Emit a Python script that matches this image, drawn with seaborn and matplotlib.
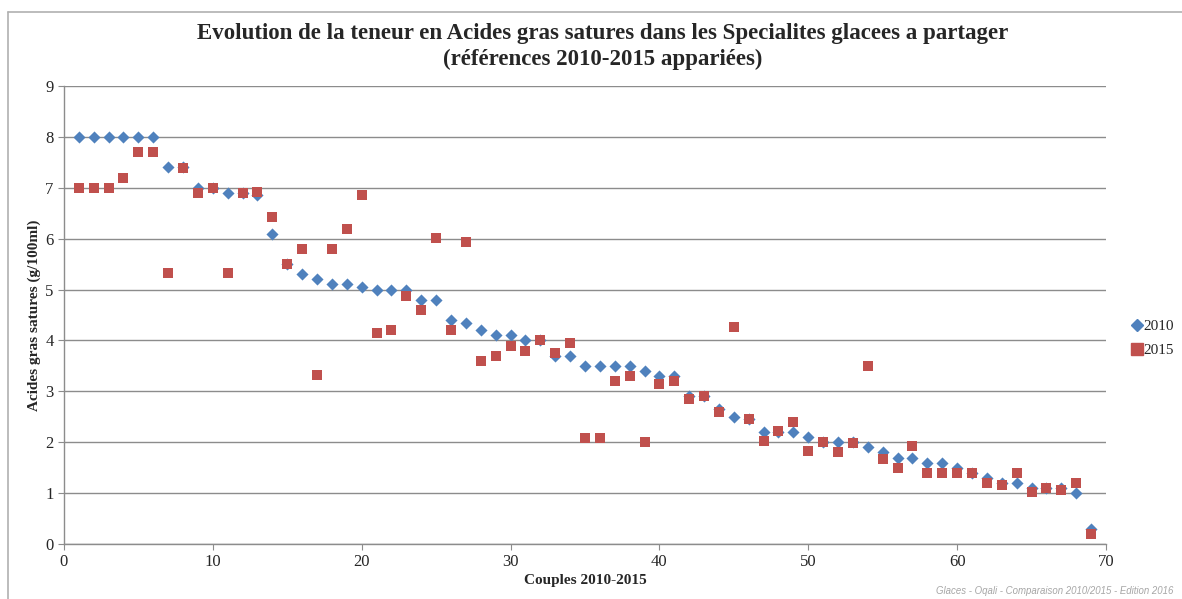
import numpy as np
import pandas as pd
import seaborn as sns
import matplotlib.pyplot as plt
from matplotlib.lines import Line2D

# valeurs (g/100ml)
couples = list(range(1, 70))
ags_2010 = [8.0, 8.0, 8.0, 8.0, 8.0, 8.0, 7.4, 7.4, 7.0, 7.0,
            6.9, 6.9, 6.85, 6.1, 5.5, 5.3, 5.2, 5.1, 5.1, 5.05,
            5.0, 5.0, 5.0, 4.8, 4.8, 4.4, 4.35, 4.2, 4.1, 4.1,
            4.0, 4.0, 3.7, 3.7, 3.5, 3.5, 3.5, 3.5, 3.4, 3.3,
            3.3, 2.9, 2.9, 2.65, 2.5, 2.45, 2.2, 2.2, 2.2, 2.1,
            2.0, 2.0, 2.0, 1.9, 1.8, 1.7, 1.7, 1.6, 1.6, 1.5,
            1.4, 1.3, 1.2, 1.2, 1.1, 1.1, 1.1, 1.0, 0.3]
ags_2015 = [7.0, 7.0, 7.0, 7.2, 7.7, 7.7, 5.33, 7.38, 6.9, 7.0,
            5.33, 6.9, 6.92, 6.42, 5.5, 5.8, 3.33, 5.8, 6.2, 6.85,
            4.15, 4.2, 4.87, 4.6, 6.02, 4.2, 5.93, 3.6, 3.7, 3.9,
            3.8, 4.0, 3.75, 3.95, 2.08, 2.08, 3.2, 3.3, 2.0, 3.15,
            3.2, 2.85, 2.9, 2.6, 4.27, 2.45, 2.03, 2.23, 2.4, 1.82,
            2.0, 1.8, 1.98, 3.5, 1.68, 1.5, 1.92, 1.4, 1.4, 1.4,
            1.4, 1.2, 1.15, 1.4, 1.03, 1.1, 1.07, 1.2, 0.2]
annees = ['2010', '2015']
couleurs = {'2010': '#4F81BD', '2015': '#C0504D'}

df = pd.DataFrame({'couple': couples * 2,
                   'ags': ags_2010 + ags_2015,
                   'annee': [annees[0]] * len(couples) + [annees[1]] * len(couples)})

sns.set_style('white')
plt.rcParams['font.family'] = ['Liberation Serif', 'DejaVu Serif']

fig = plt.figure(figsize=(11.82, 5.99), dpi=100)
ax = fig.add_axes([0.0541, 0.0918, 0.8816, 0.7646])

ax.set_axisbelow(True)
ax.grid(axis='y', color='#8c8c8c', linewidth=1.0)
# 2010 d'abord (losanges), puis 2015 par-dessus (carrés)
sns.scatterplot(data=df[df['annee'] == '2010'], x='couple', y='ags', color=couleurs['2010'],
                marker='D', s=38, linewidth=0, legend=False, ax=ax, zorder=3)
sns.scatterplot(data=df[df['annee'] == '2015'], x='couple', y='ags', color=couleurs['2015'],
                marker='s', s=62, linewidth=0, legend=False, ax=ax, zorder=4)

ax.set_xlim(0, 70)
ax.set_ylim(0, 9)
ax.set_xticks(range(0, 71, 10))
ax.set_yticks(range(0, 10))
ax.tick_params(axis='both', labelsize=12, length=4, color='#8c8c8c', direction='out',
               bottom=True, left=True)
for side in ['top', 'right']:
    ax.spines[side].set_visible(False)
for side in ['left', 'bottom']:
    ax.spines[side].set_color('#8c8c8c')
    ax.spines[side].set_linewidth(1.0)

ax.set_xlabel('Couples 2010-2015', fontsize=11, fontweight='bold')
ax.set_ylabel('Acides gras satures (g/100ml)', fontsize=11, fontweight='bold')
ax.xaxis.set_label_coords(0.5, -0.065)
ax.yaxis.set_label_coords(-0.022, 0.5)

fig.suptitle('Evolution de la teneur en Acides gras satures dans les Specialites glacees a partager\n'
             '(références 2010-2015 appariées)', fontsize=16.5, fontweight='bold', y=0.962,
             x=0.51, linespacing=1.3)

handles = [Line2D([], [], marker='D', color=couleurs['2010'], linestyle='', markersize=6),
           Line2D([], [], marker='s', color=couleurs['2015'], linestyle='', markersize=8)]
fig.legend(handles, annees, loc='center left', bbox_to_anchor=(0.955, 0.435),
           frameon=False, fontsize=11, handletextpad=0.05, labelspacing=0.65,
           handlelength=0.7, borderpad=0.1, borderaxespad=0.1)

fig.text(0.792, 0.008, 'Glaces - Oqali - Comparaison 2010/2015 - Edition 2016',
         fontsize=6.9, style='italic', color='#a6a6a6', family=['Liberation Sans', 'DejaVu Sans'])

# cadre de la zone graphique
fig.add_artist(Line2D([0.007, 1.0], [0.98, 0.98], color='#b0b0b0', linewidth=1.2))
fig.add_artist(Line2D([0.007, 0.007], [0.0, 0.98], color='#b0b0b0', linewidth=1.2))

fig.savefig('out.png', dpi=100)
